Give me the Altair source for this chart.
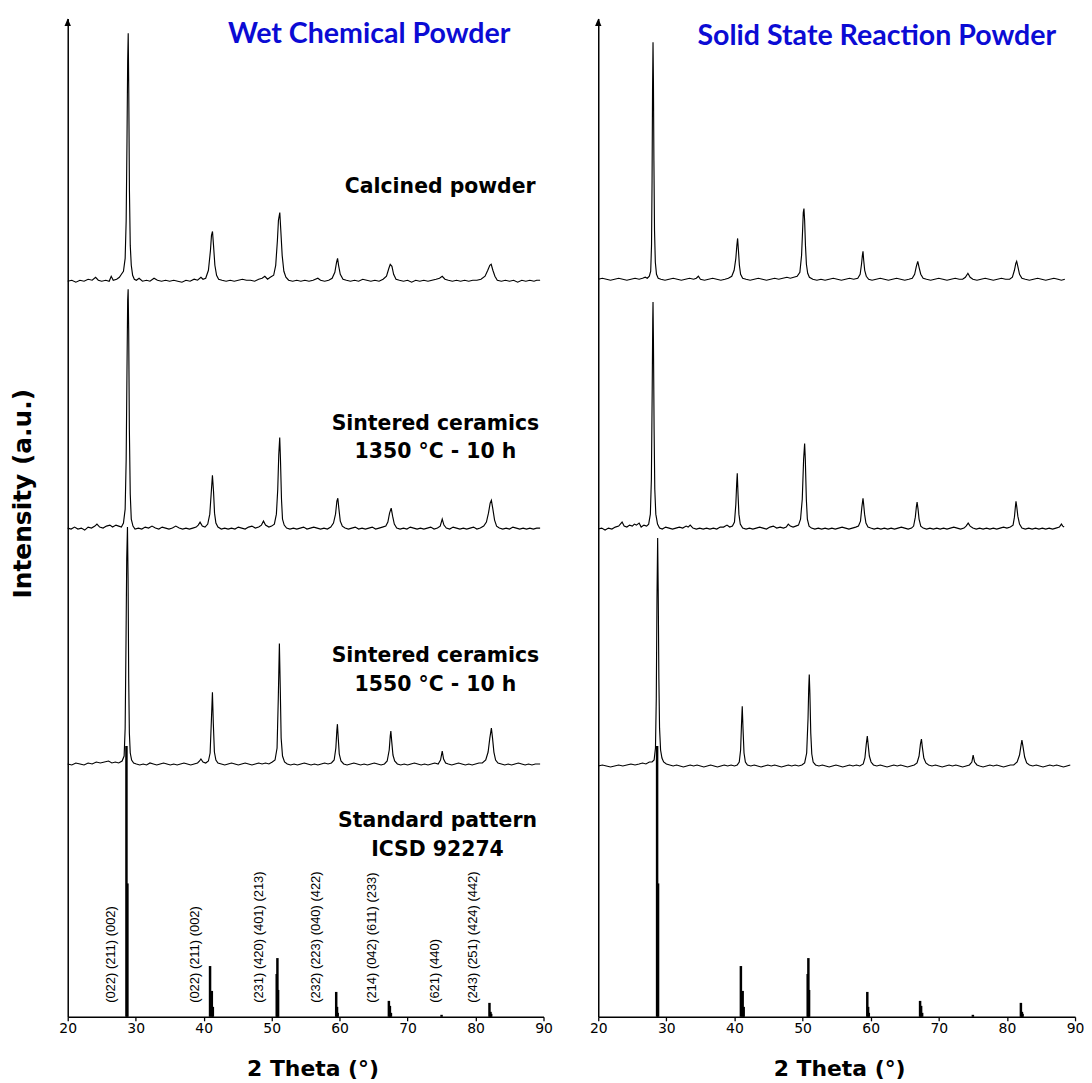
import altair as alt
import pandas as pd

# ---------------- data ----------------
# intensities are in arbitrary units (stacked, offset already included)

WC_CALCINED = [
    (20.0, 739), (20.6, 740), (21.2, 738), (21.8, 740), (22.4, 739), (23.0, 741), (23.6, 740), (24.1, 743),
    (24.5, 740), (25.0, 739), (25.6, 740), (26.1, 739), (26.4, 744), (26.7, 740), (27.2, 741), (27.6, 743),
    (27.9, 746), (28.2, 749), (28.45, 762), (28.6, 800), (28.72, 880), (28.82, 960), (28.9, 988), (28.98, 930),
    (29.08, 830), (29.2, 775), (29.35, 755), (29.55, 745), (29.8, 741), (30.1, 740), (30.5, 742), (31.0, 739),
    (31.6, 740), (32.1, 739), (32.7, 742), (33.2, 740), (33.8, 739), (34.4, 740), (35.0, 739), (35.6, 740),
    (36.2, 739), (36.8, 738), (37.4, 740), (38.0, 739), (38.6, 741), (39.1, 740), (39.6, 743), (39.9, 741),
    (40.3, 742), (40.7, 750), (41.0, 770), (41.15, 785), (41.3, 789), (41.45, 775), (41.65, 755), (41.9, 745),
    (42.2, 741), (42.7, 740), (43.3, 739), (43.9, 740), (44.5, 739), (45.1, 740), (45.7, 741), (46.3, 740),
    (46.9, 740), (47.5, 739), (48.1, 741), (48.6, 742), (49.0, 744), (49.4, 741), (49.8, 743), (50.3, 745),
    (50.6, 755), (50.85, 780), (51.0, 800), (51.2, 808), (51.35, 790), (51.55, 765), (51.8, 749), (52.1, 743),
    (52.5, 740), (53.1, 739), (53.7, 740), (54.3, 739), (54.9, 740), (55.5, 739), (56.1, 740), (56.8, 742),
    (57.2, 740), (57.8, 739), (58.4, 740), (58.9, 742), (59.3, 748), (59.55, 758), (59.7, 762), (59.85, 755),
    (60.1, 746), (60.5, 741), (61.0, 740), (61.6, 739), (62.2, 740), (62.8, 739), (63.4, 741), (64.0, 740),
    (64.6, 739), (65.2, 740), (65.8, 739), (66.4, 741), (66.9, 744), (67.25, 752), (67.45, 756), (67.7, 754),
    (67.95, 746), (68.3, 741), (68.8, 740), (69.4, 739), (70.0, 740), (70.6, 738), (71.2, 740), (71.8, 739),
    (72.4, 740), (73.0, 739), (73.6, 740), (74.2, 741), (74.7, 742), (75.1, 744), (75.5, 741), (76.0, 740),
    (76.6, 739), (77.2, 740), (77.8, 739), (78.4, 740), (79.0, 739), (79.6, 740), (80.2, 740), (80.8, 741),
    (81.4, 744), (81.8, 750), (82.1, 755), (82.3, 756), (82.55, 750), (82.85, 744), (83.2, 740), (83.8, 739),
    (84.4, 740), (85.0, 739), (85.6, 740), (86.2, 738), (86.8, 740), (87.4, 739), (88.0, 740), (88.6, 739),
    (89.0, 740), (89.5, 740),
]

WC_1350 = [
    (20.0, 491), (20.5, 490), (21.0, 492), (21.5, 490), (22.0, 491), (22.5, 489), (23.0, 492), (23.5, 491),
    (24.0, 493), (24.3, 495), (24.7, 492), (25.2, 491), (25.7, 493), (26.2, 494), (26.6, 492), (27.1, 494),
    (27.5, 493), (27.9, 492), (28.2, 496), (28.45, 510), (28.6, 560), (28.72, 650), (28.82, 720), (28.89, 731),
    (28.97, 690), (29.07, 590), (29.2, 525), (29.35, 500), (29.6, 493), (29.9, 490), (30.4, 491), (30.9, 490),
    (31.4, 492), (31.9, 491), (32.4, 493), (32.9, 491), (33.4, 490), (33.9, 492), (34.4, 491), (34.9, 490),
    (35.4, 491), (35.9, 493), (36.4, 491), (36.9, 490), (37.4, 491), (37.9, 490), (38.4, 491), (38.9, 492),
    (39.2, 494), (39.47, 497), (39.8, 493), (40.2, 492), (40.6, 495), (40.9, 505), (41.1, 525), (41.29, 544),
    (41.45, 528), (41.6, 506), (41.8, 496), (42.1, 492), (42.6, 490), (43.1, 491), (43.6, 490), (44.1, 491),
    (44.6, 490), (45.1, 492), (45.6, 491), (46.1, 490), (46.6, 492), (47.1, 493), (47.6, 491), (48.1, 492),
    (48.5, 494), (48.8, 498), (49.1, 494), (49.6, 492), (50.0, 493), (50.4, 495), (50.7, 505), (50.9, 530),
    (51.05, 565), (51.19, 582), (51.3, 560), (51.45, 520), (51.6, 500), (51.85, 494), (52.2, 491), (52.7, 490),
    (53.2, 491), (53.7, 490), (54.2, 491), (54.7, 492), (55.2, 490), (55.7, 491), (56.2, 492), (56.7, 491),
    (57.2, 490), (57.7, 491), (58.2, 490), (58.7, 492), (59.1, 496), (59.4, 505), (59.6, 518), (59.74, 521),
    (59.9, 510), (60.1, 498), (60.4, 493), (60.8, 491), (61.3, 490), (61.8, 491), (62.3, 492), (62.8, 490),
    (63.3, 491), (63.8, 490), (64.3, 491), (64.8, 492), (65.3, 490), (65.8, 491), (66.3, 492), (66.8, 493),
    (67.1, 497), (67.35, 506), (67.59, 511), (67.8, 503), (68.05, 495), (68.4, 491), (68.9, 490), (69.4, 491),
    (69.9, 490), (70.4, 492), (70.9, 491), (71.4, 490), (71.9, 491), (72.4, 490), (72.9, 491), (73.4, 492),
    (73.9, 490), (74.4, 491), (74.8, 493), (75.1, 500), (75.35, 494), (75.7, 491), (76.2, 490), (76.7, 492),
    (77.2, 491), (77.7, 490), (78.2, 491), (78.7, 490), (79.2, 491), (79.7, 492), (80.2, 490), (80.7, 491),
    (81.2, 493), (81.6, 497), (81.9, 506), (82.15, 516), (82.33, 519), (82.55, 510), (82.8, 499), (83.1, 493),
    (83.5, 491), (84.0, 490), (84.5, 491), (85.0, 490), (85.5, 492), (86.0, 491), (86.5, 490), (87.0, 491),
    (87.5, 490), (88.0, 491), (88.5, 490), (89.0, 491), (89.5, 491),
]

WC_1550 = [
    (20.0, 254), (20.6, 253), (21.2, 255), (21.8, 254), (22.4, 253), (23.0, 255), (23.6, 254), (24.2, 256),
    (24.8, 255), (25.4, 256), (26.0, 257), (26.5, 255), (27.0, 256), (27.5, 255), (28.0, 257), (28.3, 262),
    (28.45, 290), (28.58, 380), (28.68, 460), (28.79, 492), (28.88, 440), (28.97, 340), (29.07, 285), (29.2, 265),
    (29.4, 258), (29.7, 255), (30.1, 254), (30.6, 253), (31.1, 254), (31.6, 253), (32.1, 255), (32.6, 254),
    (33.1, 253), (33.6, 254), (34.1, 255), (34.6, 254), (35.1, 253), (35.6, 254), (36.1, 253), (36.6, 254),
    (37.1, 255), (37.6, 254), (38.1, 253), (38.6, 254), (39.1, 255), (39.4, 257), (39.6, 259), (39.9, 256),
    (40.3, 255), (40.7, 257), (40.95, 265), (41.12, 295), (41.29, 326), (41.42, 295), (41.58, 266), (41.8, 258),
    (42.1, 255), (42.6, 254), (43.1, 253), (43.6, 254), (44.1, 255), (44.6, 254), (45.1, 253), (45.6, 254),
    (46.1, 255), (46.6, 254), (47.1, 253), (47.6, 254), (48.1, 255), (48.6, 254), (49.1, 255), (49.6, 254),
    (50.1, 256), (50.5, 258), (50.8, 270), (50.98, 320), (51.14, 375), (51.27, 330), (51.4, 280), (51.6, 262),
    (51.9, 256), (52.3, 254), (52.8, 253), (53.3, 254), (53.8, 253), (54.3, 254), (54.8, 255), (55.3, 254),
    (55.8, 253), (56.3, 254), (56.8, 253), (57.3, 254), (57.8, 255), (58.3, 254), (58.8, 255), (59.2, 258),
    (59.45, 270), (59.6, 288), (59.68, 294), (59.8, 280), (59.95, 264), (60.2, 257), (60.6, 254), (61.1, 253),
    (61.6, 254), (62.1, 255), (62.6, 254), (63.1, 253), (63.6, 254), (64.1, 253), (64.6, 254), (65.1, 255),
    (65.6, 254), (66.1, 253), (66.6, 254), (67.0, 257), (67.3, 268), (67.45, 282), (67.54, 287), (67.65, 278),
    (67.85, 263), (68.1, 257), (68.5, 254), (69.0, 253), (69.5, 254), (70.0, 253), (70.5, 254), (71.0, 255),
    (71.5, 254), (72.0, 253), (72.5, 254), (73.0, 253), (73.5, 254), (74.0, 255), (74.5, 254), (74.85, 258),
    (75.1, 267), (75.3, 259), (75.6, 255), (76.0, 254), (76.5, 253), (77.0, 254), (77.5, 255), (78.0, 254),
    (78.5, 253), (79.0, 254), (79.5, 253), (80.0, 254), (80.5, 255), (81.0, 255), (81.5, 258), (81.85, 266),
    (82.1, 280), (82.33, 290), (82.5, 280), (82.7, 266), (82.95, 258), (83.3, 255), (83.8, 254), (84.3, 253),
    (84.8, 254), (85.3, 253), (85.8, 254), (86.3, 255), (86.8, 254), (87.3, 253), (87.8, 254), (88.3, 253),
    (88.8, 254), (89.5, 254),
]

SS_CALCINED = [
    (20.0, 741), (20.6, 742), (21.2, 741), (21.8, 740), (22.4, 741), (23.0, 742), (23.6, 741), (24.2, 740),
    (24.8, 741), (25.4, 742), (26.0, 741), (26.5, 742), (26.9, 743), (27.2, 742), (27.5, 744), (27.7, 749),
    (27.82, 775), (27.9, 840), (27.97, 930), (28.04, 979), (28.1, 940), (28.17, 860), (28.26, 790), (28.38, 758),
    (28.55, 746), (28.8, 742), (29.2, 741), (29.8, 740), (30.4, 741), (31.0, 742), (31.6, 741), (32.2, 740),
    (32.8, 741), (33.4, 742), (34.0, 741), (34.4, 742), (34.7, 744), (35.0, 741), (35.6, 740), (36.2, 741),
    (36.8, 742), (37.4, 741), (38.0, 740), (38.6, 741), (39.1, 742), (39.6, 744), (39.95, 750), (40.2, 762),
    (40.35, 775), (40.46, 782), (40.58, 770), (40.72, 755), (40.9, 746), (41.2, 742), (41.7, 741), (42.3, 740),
    (42.9, 741), (43.5, 742), (44.1, 741), (44.7, 740), (45.3, 741), (45.9, 742), (46.5, 741), (47.1, 742),
    (47.7, 743), (48.2, 742), (48.7, 743), (49.2, 744), (49.6, 748), (49.85, 765), (50.0, 790), (50.1, 808),
    (50.2, 812), (50.3, 800), (50.42, 775), (50.56, 756), (50.75, 747), (51.0, 743), (51.5, 741), (52.1, 740),
    (52.7, 741), (53.3, 740), (53.9, 741), (54.5, 742), (55.1, 741), (55.7, 740), (56.3, 741), (56.9, 742),
    (57.5, 741), (58.1, 742), (58.45, 746), (58.65, 756), (58.78, 765), (58.87, 769), (58.97, 760), (59.12, 750),
    (59.35, 744), (59.7, 741), (60.2, 740), (60.8, 741), (61.4, 742), (62.0, 741), (62.6, 740), (63.2, 741),
    (63.8, 742), (64.4, 741), (65.0, 740), (65.6, 741), (66.1, 742), (66.45, 746), (66.7, 754), (66.91, 759),
    (67.1, 753), (67.35, 746), (67.7, 742), (68.2, 741), (68.8, 740), (69.4, 741), (70.0, 742), (70.6, 741),
    (71.2, 740), (71.8, 741), (72.4, 742), (73.0, 741), (73.5, 741), (73.9, 743), (74.27, 747), (74.6, 743),
    (75.0, 741), (75.6, 740), (76.2, 741), (76.8, 742), (77.4, 741), (78.0, 740), (78.6, 741), (79.2, 742),
    (79.8, 741), (80.4, 741), (80.8, 743), (81.1, 750), (81.3, 757), (81.43, 759), (81.6, 754), (81.85, 746),
    (82.2, 742), (82.7, 741), (83.3, 740), (83.9, 741), (84.5, 742), (85.1, 741), (85.7, 740), (86.3, 741),
    (86.9, 742), (87.5, 741), (88.0, 740), (88.5, 741),
]

SS_1350 = [
    (20.0, 490), (20.5, 491), (21.0, 489), (21.5, 491), (22.0, 490), (22.5, 492), (23.0, 493), (23.5, 497),
    (23.8, 493), (24.2, 492), (24.6, 494), (25.0, 493), (25.3, 495), (25.6, 494), (26.0, 496), (26.3, 492),
    (26.7, 494), (27.1, 493), (27.4, 495), (27.65, 505), (27.8, 540), (27.92, 630), (28.0, 700), (28.04, 718),
    (28.1, 680), (28.2, 590), (28.3, 530), (28.45, 505), (28.7, 495), (29.0, 491), (29.4, 490), (29.9, 492),
    (30.4, 491), (30.9, 490), (31.4, 491), (31.9, 492), (32.4, 491), (32.9, 493), (33.2, 492), (33.5, 494),
    (33.9, 491), (34.4, 490), (34.9, 491), (35.4, 490), (35.9, 491), (36.4, 490), (36.9, 491), (37.4, 490),
    (37.9, 492), (38.4, 492), (38.9, 494), (39.3, 492), (39.7, 493), (40.0, 497), (40.2, 515), (40.32, 535),
    (40.41, 546), (40.52, 525), (40.65, 505), (40.85, 495), (41.2, 491), (41.7, 490), (42.2, 491), (42.7, 490),
    (43.2, 491), (43.7, 492), (44.2, 491), (44.7, 490), (45.2, 492), (45.7, 493), (46.2, 491), (46.7, 492),
    (47.2, 491), (47.6, 492), (47.9, 495), (48.2, 493), (48.6, 492), (49.0, 493), (49.4, 494), (49.7, 500),
    (49.95, 520), (50.15, 560), (50.3, 576), (50.4, 560), (50.55, 520), (50.7, 500), (50.95, 493), (51.3, 491),
    (51.8, 490), (52.3, 491), (52.8, 490), (53.3, 491), (53.8, 490), (54.3, 491), (54.8, 490), (55.3, 491),
    (55.8, 492), (56.3, 491), (56.8, 490), (57.3, 491), (57.8, 492), (58.2, 493), (58.5, 498), (58.7, 512),
    (58.87, 521), (58.95, 516), (59.1, 505), (59.3, 496), (59.6, 492), (60.0, 491), (60.5, 490), (61.0, 491),
    (61.5, 490), (62.0, 491), (62.5, 490), (63.0, 491), (63.5, 490), (64.0, 491), (64.5, 492), (65.0, 491),
    (65.5, 490), (66.0, 491), (66.3, 493), (66.55, 502), (66.7, 512), (66.81, 517), (66.95, 510), (67.1, 500),
    (67.35, 493), (67.7, 491), (68.2, 490), (68.7, 491), (69.2, 490), (69.7, 491), (70.2, 490), (70.7, 491),
    (71.2, 490), (71.7, 491), (72.2, 492), (72.7, 491), (73.2, 490), (73.7, 491), (74.0, 493), (74.31, 496),
    (74.6, 493), (75.0, 491), (75.5, 490), (76.0, 491), (76.5, 490), (77.0, 491), (77.5, 490), (78.0, 491),
    (78.5, 490), (79.0, 491), (79.5, 492), (80.0, 491), (80.5, 492), (80.9, 494), (81.1, 502), (81.25, 513),
    (81.33, 518), (81.45, 512), (81.6, 503), (81.85, 495), (82.2, 491), (82.7, 490), (83.2, 491), (83.7, 490),
    (84.2, 491), (84.7, 490), (85.2, 491), (85.7, 490), (86.2, 491), (86.7, 490), (87.2, 491), (87.7, 492),
    (88.0, 495), (88.2, 493), (88.4, 492),
]

SS_1550 = [
    (20.0, 252), (20.6, 253), (21.2, 252), (21.8, 251), (22.4, 252), (23.0, 253), (23.6, 252), (24.2, 253),
    (24.8, 254), (25.4, 253), (26.0, 254), (26.5, 255), (27.0, 254), (27.5, 256), (27.9, 256), (28.2, 258),
    (28.4, 270), (28.52, 320), (28.62, 420), (28.72, 481), (28.8, 430), (28.9, 340), (29.0, 290), (29.15, 268),
    (29.35, 260), (29.6, 256), (30.0, 254), (30.5, 253), (31.0, 252), (31.5, 253), (32.0, 252), (32.5, 251),
    (33.0, 252), (33.5, 253), (34.0, 252), (34.5, 253), (35.0, 252), (35.5, 251), (36.0, 252), (36.5, 253),
    (37.0, 252), (37.5, 251), (38.0, 252), (38.5, 253), (39.0, 252), (39.5, 253), (40.0, 252), (40.4, 253),
    (40.7, 256), (40.9, 268), (41.02, 292), (41.14, 312), (41.25, 290), (41.4, 265), (41.6, 256), (41.9, 253),
    (42.4, 252), (42.9, 253), (43.4, 252), (43.9, 251), (44.4, 252), (44.9, 253), (45.4, 252), (45.9, 253),
    (46.4, 252), (46.9, 251), (47.4, 252), (47.9, 253), (48.4, 252), (48.9, 253), (49.4, 252), (49.9, 253),
    (50.3, 255), (50.6, 265), (50.8, 300), (50.9, 330), (50.98, 344), (51.07, 325), (51.2, 285), (51.35, 264),
    (51.55, 256), (51.9, 253), (52.4, 252), (52.9, 253), (53.4, 252), (53.9, 251), (54.4, 252), (54.9, 253),
    (55.4, 252), (55.9, 251), (56.4, 252), (56.9, 253), (57.4, 252), (57.9, 253), (58.4, 252), (58.9, 254),
    (59.15, 260), (59.35, 274), (59.5, 282), (59.62, 274), (59.8, 262), (60.05, 256), (60.4, 253), (60.9, 252),
    (61.4, 253), (61.9, 252), (62.4, 251), (62.9, 252), (63.4, 253), (63.9, 252), (64.4, 253), (64.9, 252),
    (65.4, 251), (65.9, 252), (66.4, 253), (66.8, 255), (67.1, 262), (67.3, 274), (67.45, 279), (67.58, 271),
    (67.8, 260), (68.1, 255), (68.5, 253), (69.0, 252), (69.5, 253), (70.0, 252), (70.5, 251), (71.0, 252),
    (71.5, 253), (72.0, 252), (72.5, 253), (73.0, 252), (73.5, 251), (74.0, 252), (74.5, 253), (74.85, 256),
    (75.04, 263), (75.25, 256), (75.6, 253), (76.0, 252), (76.5, 251), (77.0, 252), (77.5, 253), (78.0, 252),
    (78.5, 253), (79.0, 252), (79.5, 251), (80.0, 252), (80.5, 253), (81.0, 253), (81.5, 256), (81.85, 263),
    (82.05, 272), (82.2, 278), (82.35, 272), (82.6, 261), (82.9, 255), (83.3, 253), (83.8, 252), (84.3, 253),
    (84.8, 252), (85.3, 251), (85.8, 252), (86.3, 253), (86.8, 252), (87.3, 253), (87.8, 252), (88.3, 251),
    (88.8, 252), (89.3, 253),
]

# Standard pattern ICSD 92274 (stick positions / heights)
STD_THETA = [28.64, 28.78, 40.94, 41.2, 41.35, 50.75, 50.85, 50.95, 59.5, 59.62, 59.72,
             67.25, 67.4, 67.55, 75.0, 82.05, 82.2, 82.3]
STD_INT = [272, 134, 51, 26, 10, 43, 59, 27, 25, 10, 4,
           16, 11, 4, 2, 14, 5, 3]

# Miller index labels
HKL_TEXT = ["(022) (211) (002)", "(022) (211) (002)", "(231) (420) (401) (213)",
            "(232) (223) (040) (422)", "(214) (042) (611) (233)", "(621) (440)",
            "(243) (251) (424) (442)"]
HKL_THETA = [26.4, 38.7, 48.1, 56.6, 64.8, 74.0, 79.6]
HKL_Y = [14, 14, 14, 14, 14, 14, 14]

# sample annotations
ANN_TEXT = ["Calcined powder", "Sintered ceramics", "1350 °C - 10 h",
            "Sintered ceramics", "1550 °C - 10 h", "Standard pattern", "ICSD 92274"]
ANN_THETA = [74.8, 74.1, 74.1, 74.1, 74.1, 74.4, 74.4]
ANN_Y = [828, 590, 561, 356, 327, 191, 162]

PANEL_TITLES = ["Wet Chemical Powder", "Solid State Reaction Powder"]
PANEL_TITLE_THETA = [64.35, 60.9]
PANEL_TITLE_Y = [978, 976]

X_TICKS = [20, 25, 30, 35, 40, 45, 50, 55, 60, 65, 70, 75, 80, 85, 90]

# ---------------- build tables ----------------
def pattern_df(rows, name):
    return pd.DataFrame({"t": [r[0] for r in rows], "I": [r[1] for r in rows], "s": name})

left_lines = pd.concat([pattern_df(WC_CALCINED, "calc"), pattern_df(WC_1350, "s1350"),
                        pattern_df(WC_1550, "s1550")])
right_lines = pd.concat([pattern_df(SS_CALCINED, "calc"), pattern_df(SS_1350, "s1350"),
                         pattern_df(SS_1550, "s1550")])
std_df = pd.DataFrame({"t": STD_THETA, "I": STD_INT})
hkl_df = pd.DataFrame({"t": HKL_THETA, "I": HKL_Y, "txt": HKL_TEXT})
ann_df = pd.DataFrame({"t": ANN_THETA, "I": ANN_Y, "txt": ANN_TEXT})
arrow_df = pd.DataFrame({"t": [20], "I": [999]})

MAIN_FONT = "DejaVu Sans"
H = 1003


def panel(width, lines_df, title_idx, xtitle_x, with_ytitle, with_labels):
    xs = alt.Scale(domain=[20, 90], nice=False, zero=False)
    ys = alt.Scale(domain=[0, H], nice=False, zero=False)
    x_axis = alt.Axis(
        values=X_TICKS, labelExpr="datum.value % 10 === 0 ? datum.label : ''",
        grid=False, tickSize=4, tickWidth=1.3, tickColor="black",
        domainColor="black", domainWidth=1.5, labelColor="black",
        labelFont=MAIN_FONT, labelFontSize=14, labelPadding=1, labelFlush=False,
        labelOverlap=False, title="2 Theta (°)", titleFont=MAIN_FONT, titleFontSize=22,
        titleFontWeight="bold", titleColor="black", titleX=xtitle_x, titleY=59,
        titleBaseline="alphabetic",
    )
    if with_ytitle:
        y_axis = alt.Axis(labels=False, ticks=False, grid=False, domainColor="black",
                          domainWidth=1.5, title="Intensity (a.u.)", titleFont=MAIN_FONT,
                          titleFontSize=25, titleFontWeight="bold", titleColor="black",
                          titleX=-37, titleY=477, titleBaseline="alphabetic")
    else:
        y_axis = alt.Axis(labels=False, ticks=False, grid=False, domainColor="black",
                          domainWidth=1.5, title=None)

    lines = alt.Chart(lines_df).mark_line(color="black", strokeWidth=1.15).encode(
        x=alt.X("t:Q", scale=xs, axis=x_axis),
        y=alt.Y("I:Q", scale=ys, axis=y_axis),
        detail="s:N",
    )
    sticks = alt.Chart(std_df).mark_rule(color="black", strokeWidth=2.5).encode(
        x="t:Q", y="I:Q", y2=alt.datum(0)
    )
    arrow = alt.Chart(arrow_df).mark_point(
        shape="M0,-1L0.8,0.9L-0.8,0.9Z", filled=True, color="black", size=64, opacity=1
    ).encode(x="t:Q", y="I:Q")
    tdf = pd.DataFrame({"t": [PANEL_TITLE_THETA[title_idx]], "I": [PANEL_TITLE_Y[title_idx]],
                        "txt": [PANEL_TITLES[title_idx]]})
    title = alt.Chart(tdf).mark_text(
        font="Lato", fontSize=28.7, fontWeight="bold", color="#0B0BD4",
        align="center", baseline="alphabetic"
    ).encode(x="t:Q", y="I:Q", text="txt:N")
    layers = [lines, sticks, arrow, title]
    if with_labels:
        ann = alt.Chart(ann_df).mark_text(
            font=MAIN_FONT, fontSize=20.5, fontWeight="bold", color="black",
            align="center", baseline="alphabetic"
        ).encode(x="t:Q", y="I:Q", text="txt:N")
        hkl = alt.Chart(hkl_df).mark_text(
            font="Liberation Sans", fontSize=13,
            color="black", angle=270, align="left", baseline="middle"
        ).encode(x="t:Q", y="I:Q", text="txt:N")
        layers += [ann, hkl]
    return alt.layer(*layers).properties(width=width, height=H)


left = panel(478, left_lines, 0, 246, True, True)
right = panel(479, right_lines, 1, 242, False, False)

chart = alt.hconcat(left, right, spacing=37).properties(
    padding={"left": 3, "top": 7, "right": 0, "bottom": 0},
    background="white",
).configure_view(stroke=None)

chart.save("out.html", embed_options={"renderer": "svg", "actions": False})
